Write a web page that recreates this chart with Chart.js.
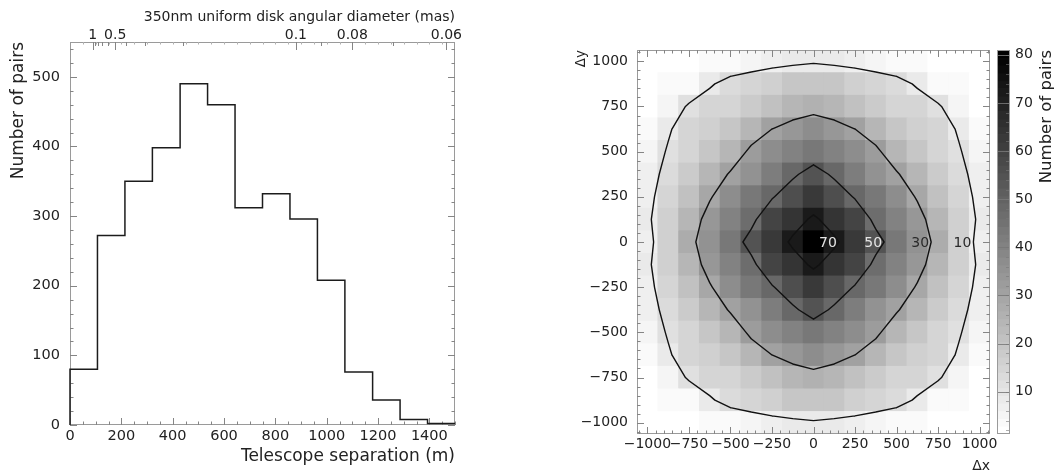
<!DOCTYPE html>
<html><head><meta charset="utf-8">
<script src="https://cdn.jsdelivr.net/npm/chart.js@4.4.1/dist/chart.umd.min.js"></script>
<style>
html,body{margin:0;padding:0;background:#fff;}
#wrap{position:relative;width:1055px;height:473px;overflow:hidden;background:#fff;}
canvas{position:absolute;top:0;}
</style></head><body>
<div id="wrap">
<canvas id="hist" width="500" height="473" style="left:0px"></canvas>
<canvas id="heat" width="462" height="473" style="left:540px"></canvas>
<canvas id="cbar" width="65" height="473" style="left:990px"></canvas>
</div>
<script>
// ---------------- data ----------------
// left: histogram of telescope separations
const binLeftEdges = [0,107,214,321,429,536,643,750,857,964,1071,1179,1286,1393];
const binCounts    = [80,272,350,398,490,460,312,332,296,208,76,36,8,2];
const histXMax = 1500;
const histYMax = 550;
const histXTicks = [0,200,400,600,800,1000,1200,1400];
const histYTicks = [0,100,200,300,400,500];
// top axis: 350nm uniform disk angular diameter (mas) = diamConst / separation (m)
const diamConst = 88;
const diamMajor = [1,0.5,0.1,0.08,0.06];
const diamMajorLabels = ['1','0.5','0.1','0.08','0.06'];
const diamMinor = [0.9,0.8,0.7,0.6,0.4,0.3,0.2,0.09,0.07];

// right: 2D histogram of (dx, dy), rows from dy=+1000 (top) to dy=-1000 (bottom)
const heatX = [-1000,-875,-750,-625,-500,-375,-250,-125,0,125,250,375,500,625,750,875,1000];
const heatY = [1000,875,750,625,500,375,250,125,0,-125,-250,-375,-500,-625,-750,-875,-1000];
const heatBin = 125;
const heatRows = [
  [1,1.5,2,3,4,5.5,7,8,9,8,7,5.5,4,3,2,1.5,1],
  [1.5,3,4,9,13,15,17,19,20,19,17,15,13,9,4,3,1.5],
  [2.5,5,11,14,15.5,18,21,24,26,24,21,18,15.5,14,11,5,2.5],
  [3.5,9,14.5,16.5,20,25,30,34,37,34,30,25,20,16.5,14.5,9,3.5],
  [5,10.8,15,19,24,32,37,41,43,41,37,32,24,19,15,10.8,5],
  [6,13,18,24,31,36,42,48,55,48,42,36,31,24,18,13,6],
  [7.4,15,21,29,37,43,49,57,62,57,49,43,37,29,21,15,7.4],
  [8.6,16,24,34,40,47,59,65,72,65,59,47,40,34,24,16,8.6],
  [7,17,27,36,44,54,63,72,80,72,63,54,44,36,27,17,7],
  [8.6,16,24,34,40,47,59,65,72,65,59,47,40,34,24,16,8.6],
  [7.4,15,21,29,37,43,49,57,62,57,49,43,37,29,21,15,7.4],
  [6,13,18,24,31,36,42,48,55,48,42,36,31,24,18,13,6],
  [5,10.8,15,19,24,32,37,41,43,41,37,32,24,19,15,10.8,5],
  [3.5,9,14.5,16.5,20,25,30,34,37,34,30,25,20,16.5,14.5,9,3.5],
  [2.5,5,11,14,15.5,18,21,24,26,24,21,18,15.5,14,11,5,2.5],
  [1.5,3,4,9,13,15,17,19,20,19,17,15,13,9,4,3,1.5],
  [1,1.5,2,3,4,5.5,7,8,9,8,7,5.5,4,3,2,1.5,1]
];
const heatTicks = [-1000,-750,-500,-250,0,250,500,750,1000];
const contourLevels = [10,30,50,70];
const zMin = 1.2, zMax = 81, nLevels = 50;
const cbarTicks = [10,20,30,40,50,60,70,80];

// ---------------- helpers ----------------
const FONT = 'DejaVu Sans';
const TXT = '#222';
const FRAME = '#9a9a9a';
const TICK = '#858585';
function levelIndex(v){
  let k = Math.floor((v - zMin) / (zMax - zMin) * nLevels);
  return Math.max(0, Math.min(nLevels - 1, k));
}
function levelGray(k){
  const g = Math.round(255 * (1 - k / (nLevels - 1)));
  return 'rgb(' + g + ',' + g + ',' + g + ')';
}
function minusFmt(v){ return v < 0 ? '\u2212' + Math.abs(v) : String(v); }
function rangeStep(a, b, s){ const out = []; for (let v = a; v <= b + 1e-9; v += s) out.push(v); return out; }

function frame(ctx, a){
  ctx.save();
  ctx.strokeStyle = FRAME; ctx.lineWidth = 1;
  ctx.strokeRect(Math.round(a.left) + 0.5, Math.round(a.top) + 0.5,
                 Math.round(a.right) - Math.round(a.left) - 1, Math.round(a.bottom) - Math.round(a.top) - 1);
  ctx.restore();
}
function xTicks(ctx, sc, a, values, len, bottom, top, color){
  ctx.save(); ctx.strokeStyle = color || TICK; ctx.lineWidth = 1; ctx.beginPath();
  values.forEach(v => {
    const x = Math.round(sc.getPixelForValue(v)) + 0.5;
    if (bottom) { ctx.moveTo(x, a.bottom); ctx.lineTo(x, a.bottom - len); }
    if (top) { ctx.moveTo(x, a.top); ctx.lineTo(x, a.top + len); }
  });
  ctx.stroke(); ctx.restore();
}
function yTicks(ctx, sc, a, values, len, left, right, color){
  ctx.save(); ctx.strokeStyle = color || TICK; ctx.lineWidth = 1; ctx.beginPath();
  values.forEach(v => {
    const y = Math.round(sc.getPixelForValue(v)) + 0.5;
    if (left) { ctx.moveTo(a.left, y); ctx.lineTo(a.left + len, y); }
    if (right) { ctx.moveTo(a.right, y); ctx.lineTo(a.right - len, y); }
  });
  ctx.stroke(); ctx.restore();
}

// ---------------- left chart: histogram ----------------
const histLine = [{x: binLeftEdges[0], y: 0}];
binLeftEdges.forEach((e, i) => histLine.push({x: e, y: binCounts[i]}));
histLine.push({x: histXMax, y: binCounts[binCounts.length - 1]});

const histDeco = {
  id: 'histDeco',
  beforeDatasetsDraw(chart){
    const {ctx, chartArea: a, scales} = chart;
    frame(ctx, a);
    xTicks(ctx, scales.x, a, rangeStep(0, histXMax, 50), 3.5, true, false);
    xTicks(ctx, scales.x, a, histXTicks, 7, true, false);
    xTicks(ctx, scales.x, a, rangeStep(50, histXMax - 50, 50), 2.5, false, true, '#b0b0b0');
    yTicks(ctx, scales.y, a, rangeStep(0, histYMax, 20), 3.5, true, true);
    yTicks(ctx, scales.y, a, histYTicks, 7, true, true);
    xTicks(ctx, scales.xTop, a, diamMinor.map(d => diamConst / d), 4, false, true);
    xTicks(ctx, scales.xTop, a, diamMajor.map(d => diamConst / d), 8, false, true);
  }
};

new Chart(document.getElementById('hist'), {
  type: 'line',
  data: {datasets: [{data: histLine, borderColor: '#1c1c1c', borderWidth: 1.5, pointRadius: 0,
                     stepped: true, fill: false, tension: 0, clip: 4}]},
  options: {
    responsive: false, animation: false, events: [],
    layout: {padding: {left: 0, right: 45, top: 0, bottom: 0}},
    plugins: {legend: {display: false}, tooltip: {enabled: false}},
    scales: {
      x: {
        type: 'linear', position: 'bottom', min: 0, max: histXMax,
        grid: {display: false, drawTicks: false}, border: {display: false},
        afterBuildTicks: s => { s.ticks = histXTicks.map(v => ({value: v})); },
        afterFit: s => { s.height = 48; },
        ticks: {font: {family: FONT, size: 14.5, lineHeight: 1}, color: TXT, padding: 4, maxRotation: 0, minRotation: 0, autoSkip: false,
                callback: v => String(v)},
        title: {display: true, text: 'Telescope separation (m)', align: 'end', color: TXT,
                font: {family: FONT, size: 17, lineHeight: 1}, padding: {top: 0, bottom: 7.5}}
      },
      xTop: {
        type: 'linear', position: 'top', min: 0, max: histXMax,
        grid: {display: false, drawTicks: false}, border: {display: false},
        afterBuildTicks: s => { s.ticks = diamMajor.map(d => ({value: diamConst / d})); },
        afterFit: s => { s.height = 42; },
        ticks: {font: {family: FONT, size: 14, lineHeight: 1}, color: TXT, padding: 0, maxRotation: 0, minRotation: 0, autoSkip: false,
                callback: (v, i) => diamMajorLabels[i]},
        title: {display: true, text: '350nm uniform disk angular diameter (mas)', align: 'end', color: TXT,
                font: {family: FONT, size: 14, lineHeight: 1}, padding: {top: 10, bottom: 0}}
      },
      y: {
        type: 'linear', position: 'left', min: 0, max: histYMax,
        grid: {display: false, drawTicks: false}, border: {display: false},
        afterBuildTicks: s => { s.ticks = histYTicks.map(v => ({value: v})); },
        afterFit: s => { s.width = 70; },
        ticks: {font: {family: FONT, size: 14.5, lineHeight: 1}, color: TXT, padding: 10, autoSkip: false,
                callback: v => String(v)},
        title: {display: true, text: 'Number of pairs', align: 'end', color: TXT,
                font: {family: FONT, size: 17, lineHeight: 1}, padding: {top: 10.5, bottom: 0}}
      }
    }
  },
  plugins: [histDeco]
});

// ---------------- right chart: 2D histogram with contours ----------------
const heatData = [];
heatRows.forEach((row, r) => row.forEach((v, c) => {
  heatData.push({x: heatX[c], y: [heatY[r] - heatBin / 2, heatY[r] + heatBin / 2], v: v});
}));

function contourSegments(z, xs, ys, level){
  const segs = [];
  for (let r = 0; r < z.length - 1; r++) {
    for (let c = 0; c < z[r].length - 1; c++) {
      const p = [[xs[c], ys[r], z[r][c]], [xs[c + 1], ys[r], z[r][c + 1]],
                 [xs[c + 1], ys[r + 1], z[r + 1][c + 1]], [xs[c], ys[r + 1], z[r + 1][c]]];
      const pts = [];
      for (let k = 0; k < 4; k++) {
        const A = p[k], B = p[(k + 1) % 4];
        if ((A[2] >= level) !== (B[2] >= level)) {
          const t = (level - A[2]) / (B[2] - A[2]);
          pts.push([A[0] + t * (B[0] - A[0]), A[1] + t * (B[1] - A[1])]);
        }
      }
      if (pts.length === 2) segs.push(pts);
      else if (pts.length === 4) {
        const center = (p[0][2] + p[1][2] + p[2][2] + p[3][2]) / 4;
        if ((center >= level) === (p[0][2] >= level)) { segs.push([pts[0], pts[1]]); segs.push([pts[2], pts[3]]); }
        else { segs.push([pts[0], pts[3]]); segs.push([pts[1], pts[2]]); }
      }
    }
  }
  return segs;
}

const heatDeco = {
  id: 'heatDeco',
  afterDatasetsDraw(chart){
    const {ctx, chartArea: a, scales} = chart;
    const sx = scales.x, sy = scales.y;
    ctx.save();
    ctx.beginPath(); ctx.rect(a.left, a.top, a.right - a.left, a.bottom - a.top); ctx.clip();
    ctx.strokeStyle = '#111'; ctx.lineWidth = 1.4; ctx.lineCap = 'round'; ctx.lineJoin = 'round';
    contourLevels.forEach(L => {
      ctx.beginPath();
      contourSegments(heatRows, heatX, heatY, L).forEach(s => {
        ctx.moveTo(sx.getPixelForValue(s[0][0]), sy.getPixelForValue(s[0][1]));
        ctx.lineTo(sx.getPixelForValue(s[1][0]), sy.getPixelForValue(s[1][1]));
      });
      ctx.stroke();
    });
    const r0 = heatY.indexOf(0), c0 = heatX.indexOf(0);
    const row = heatRows[r0];
    ctx.font = '14px "' + FONT + '"';
    ctx.textAlign = 'right'; ctx.textBaseline = 'middle';
    contourLevels.forEach(L => {
      for (let c = c0; c < row.length - 1; c++) {
        if (row[c] >= L && row[c + 1] < L) {
          const xv = heatX[c] + (row[c] - L) / (row[c] - row[c + 1]) * (heatX[c + 1] - heatX[c]);
          ctx.fillStyle = L >= 50 ? '#e4e4e4' : '#2a2a2a';
          ctx.fillText(String(L), sx.getPixelForValue(xv) - 2, sy.getPixelForValue(0) + 1);
          break;
        }
      }
    });
    ctx.restore();
    frame(ctx, a);
    const minor = rangeStep(-1050, 1050, 50);
    xTicks(ctx, sx, a, minor, 3.5, true, true);
    xTicks(ctx, sx, a, heatTicks, 7, true, true);
    yTicks(ctx, sy, a, minor, 3.5, true, true);
    yTicks(ctx, sy, a, heatTicks, 7, true, true);
  }
};

new Chart(document.getElementById('heat'), {
  type: 'bar',
  data: {datasets: [{
    data: heatData,
    backgroundColor: ctx => ctx.raw ? levelGray(levelIndex(ctx.raw.v)) : '#fff',
    borderWidth: 0, borderSkipped: false, barPercentage: 1, categoryPercentage: 1
  }]},
  options: {
    responsive: false, animation: false, events: [],
    layout: {padding: {left: 0, right: 12, top: 50, bottom: 0}},
    plugins: {legend: {display: false}, tooltip: {enabled: false}},
    scales: {
      x: {
        type: 'linear', position: 'bottom', min: -1062.5, max: 1062.5, offset: false,
        grid: {display: false, drawTicks: false, offset: false}, border: {display: false},
        afterBuildTicks: s => { s.ticks = heatTicks.map(v => ({value: v})); },
        afterFit: s => { s.height = 39; },
        ticks: {font: {family: FONT, size: 14, lineHeight: 1}, color: TXT, padding: 3, maxRotation: 0, minRotation: 0,
                autoSkip: false, callback: v => minusFmt(v)},
        title: {display: true, text: '\u0394x', align: 'end', color: TXT,
                font: {family: FONT, size: 14, lineHeight: 1}, padding: {top: 0, bottom: 0}}
      },
      y: {
        type: 'linear', position: 'left', min: -1062.5, max: 1062.5,
        grid: {display: false, drawTicks: false}, border: {display: false},
        afterBuildTicks: s => { s.ticks = heatTicks.map(v => ({value: v})); },
        afterFit: s => { s.width = 97; },
        ticks: {font: {family: FONT, size: 14, lineHeight: 1}, color: TXT, padding: 9, autoSkip: false,
                callback: v => minusFmt(v)},
        title: {display: true, text: '\u0394y', align: 'end', color: TXT,
                font: {family: FONT, size: 13.5, lineHeight: 1}, padding: {top: 35, bottom: 0}}
      }
    }
  },
  plugins: [heatDeco]
});

// ---------------- colour bar ----------------
const cbarBands = [];
for (let k = 0; k < nLevels; k++) {
  const dz = (zMax - zMin) / nLevels;
  cbarBands.push({x: 'z', y: [zMin + k * dz, zMin + (k + 1) * dz], k: k});
}
const cbarDeco = {
  id: 'cbarDeco',
  afterDatasetsDraw(chart){
    const {ctx, chartArea: a, scales} = chart;
    const sy = scales.y;
    ctx.save();
    ctx.strokeStyle = 'rgba(120,120,120,0.85)'; ctx.lineWidth = 1; ctx.beginPath();
    cbarTicks.forEach(v => { const y = Math.round(sy.getPixelForValue(v)) + 0.5; ctx.moveTo(a.left, y); ctx.lineTo(a.right, y); });
    ctx.stroke();
    ctx.strokeStyle = 'rgba(120,120,120,0.6)'; ctx.beginPath();
    rangeStep(2, 80, 2).forEach(v => { const y = Math.round(sy.getPixelForValue(v)) + 0.5; ctx.moveTo(a.right, y); ctx.lineTo(a.right - 4, y); });
    ctx.stroke();
    ctx.restore();
    frame(ctx, a);
    ctx.save();
    ctx.fillStyle = TXT; ctx.font = '16.5px "' + FONT + '"';
    ctx.translate(57, a.top); ctx.rotate(-Math.PI / 2);
    ctx.textAlign = 'right'; ctx.textBaseline = 'middle';
    ctx.fillText('Number of pairs', 0, 0);
    ctx.restore();
  }
};
new Chart(document.getElementById('cbar'), {
  type: 'bar',
  data: {labels: ['z'], datasets: [{
    data: cbarBands,
    backgroundColor: ctx => ctx.raw ? levelGray(ctx.raw.k) : '#fff',
    borderWidth: 0, borderSkipped: false, barPercentage: 1, categoryPercentage: 1
  }]},
  options: {
    responsive: false, animation: false, events: [],
    layout: {padding: {left: 7, right: 0, top: 50, bottom: 39}},
    plugins: {legend: {display: false}, tooltip: {enabled: false}},
    scales: {
      x: {type: 'category', display: false},
      y: {
        type: 'linear', position: 'right', min: zMin, max: zMax,
        grid: {display: false, drawTicks: false}, border: {display: false},
        afterBuildTicks: s => { s.ticks = cbarTicks.map(v => ({value: v})); },
        afterFit: s => { s.width = 45; },
        ticks: {font: {family: FONT, size: 14, lineHeight: 1}, color: TXT, padding: 5, autoSkip: false}
      }
    }
  },
  plugins: [cbarDeco]
});
</script>
</body></html>
